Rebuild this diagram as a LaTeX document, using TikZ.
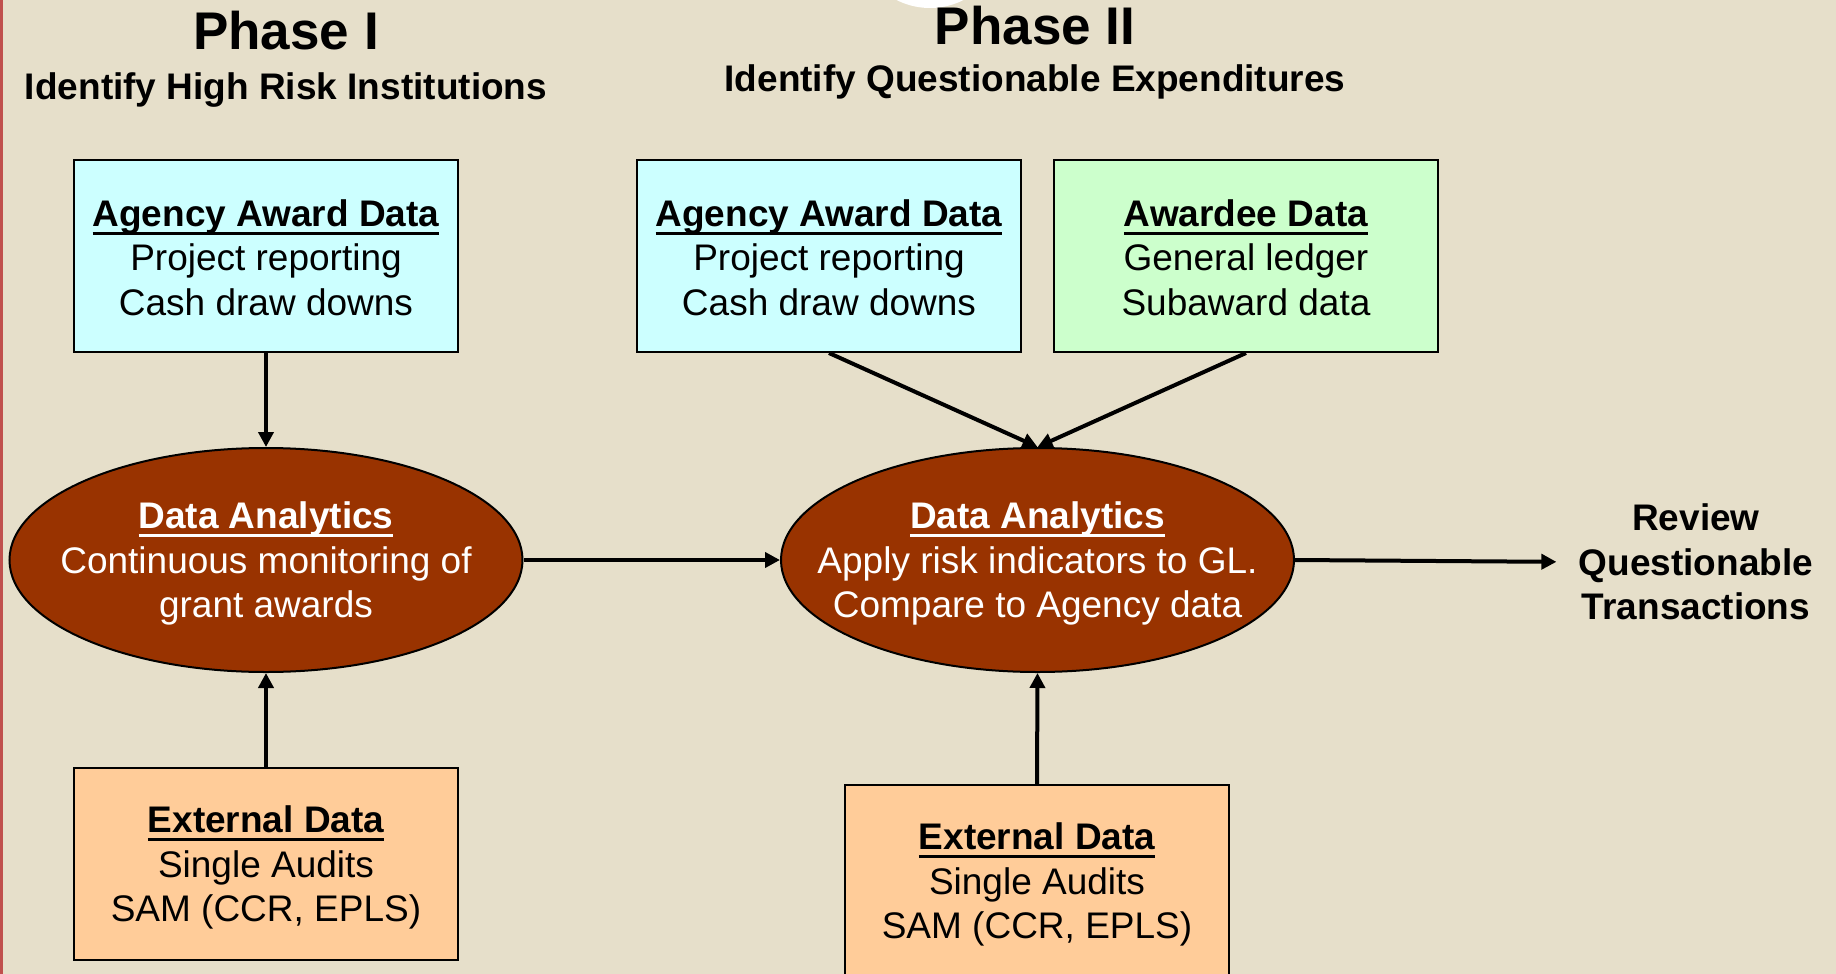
\documentclass[tikz,border=0pt]{standalone}
\usepackage{fontspec}
\setmainfont{Liberation Sans}
\usetikzlibrary{shapes.geometric,arrows.meta}

\definecolor{parchment}{RGB}{230,223,202}
\definecolor{edgered}{RGB}{192,80,77}
\definecolor{agencycyan}{RGB}{204,255,255}
\definecolor{awardeegreen}{RGB}{204,255,204}
\definecolor{externalorange}{RGB}{255,204,153}
\definecolor{rust}{RGB}{153,51,0}

\newcommand\diagfont{\fontsize{18.5pt}{22.25pt}\selectfont}
% bold heading with a heavy underline
\newcommand\ulhead[1]{\setbox0\hbox{\bfseries #1}\leavevmode\rlap{\rule[-4.4pt]{\wd0}{1.6pt}}\box0}
% invisible strut that lowers a text block inside its box
\newcommand\headroom[1]{\rule{0pt}{#1}}

\tikzset{
  databox/.style={draw=black, line width=1pt, minimum width=192pt, minimum height=96pt,
    inner sep=0pt, align=center, font=\diagfont},
  agencybox/.style={databox, fill=agencycyan},
  awardeebox/.style={databox, fill=awardeegreen},
  externalbox/.style={databox, fill=externalorange},
  analytic/.style={ellipse, draw=black, line width=1pt, fill=rust,
    minimum width=256.5pt, minimum height=112pt, inner sep=0pt},
  analytictext/.style={text=white, align=center, font=\diagfont, inner sep=0pt, yshift=-1.75pt},
  phasetitle/.style={font=\fontsize{26.5pt}{30pt}\selectfont\bfseries, anchor=base, inner sep=0pt},
  phasesub/.style={font=\diagfont\bfseries, anchor=base, inner sep=0pt},
  outcome/.style={font=\diagfont\bfseries, align=center, inner sep=0pt},
  flow/.style={line width=2pt, -{Triangle[length=7.5pt,width=7.5pt]}},
}

\begin{document}
\begin{tikzpicture}[x=0.5pt,y=-0.5pt]
  % page and background
  \useasboundingbox (0,0) rectangle (1836,974);
  \fill[parchment] (0,0) rectangle (1836,974);
  \fill[edgered] (0,0) rectangle (2.5,974);
  \fill[white] (930,-66) circle[radius=37pt];

  % phase headings
  \node[phasetitle] (p1) at (286,50) {Phase I};
  \node[phasesub] (p1s) at (286,100) {Identify High Risk Institutions};
  \node[phasetitle] (p2) at (1035,45) {Phase II};
  \node[phasesub] (p2s) at (1035,91) {Identify Questionable Expenditures};

  % phase I
  \node[agencybox] (ag1) at (266,256) {\headroom{15pt}\ulhead{Agency Award Data}\\Project reporting\\Cash draw downs};
  \node[analytic] (da1) at (266,560) {};
  \node[analytictext] (da1t) at (da1) {\ulhead{Data Analytics}\\Continuous monitoring of\\grant awards};
  \node[externalbox] (ex1) at (266,864) {\headroom{17pt}\ulhead{External Data}\\Single Audits\\SAM (CCR, EPLS)};

  % phase II
  \node[agencybox] (ag2) at (829,256) {\headroom{15pt}\ulhead{Agency Award Data}\\Project reporting\\Cash draw downs};
  \node[awardeebox] (aw2) at (1246,256) {\headroom{15pt}\ulhead{Awardee Data}\\General ledger\\Subaward data};
  \node[analytic] (da2) at (1037.5,560) {};
  \node[analytictext] (da2t) at (da2) {\ulhead{Data Analytics}\\Apply risk indicators to GL.\\Compare to Agency data};
  \node[externalbox] (ex2) at (1037,881) {\headroom{17pt}\ulhead{External Data}\\Single Audits\\SAM (CCR, EPLS)};

  % outcome
  \node[outcome] (rev) at (1696,562) {Review\\Questionable\\Transactions};

  % connectors
  \draw[flow] (ag1.south) -- (da1.north);
  \draw[flow] (ex1.north) -- (da1.south);
  \draw[flow] (da1.east) -- (da2.west);
  \draw[flow] (ag2.south) -- (da2.north);
  \draw[flow] (aw2.south) -- (da2.north);
  \draw[flow] (ex2.north) -- (da2.south);
  \draw[flow, shorten >=11pt] (da2.east) -- (rev.west);
\end{tikzpicture}
\end{document}
